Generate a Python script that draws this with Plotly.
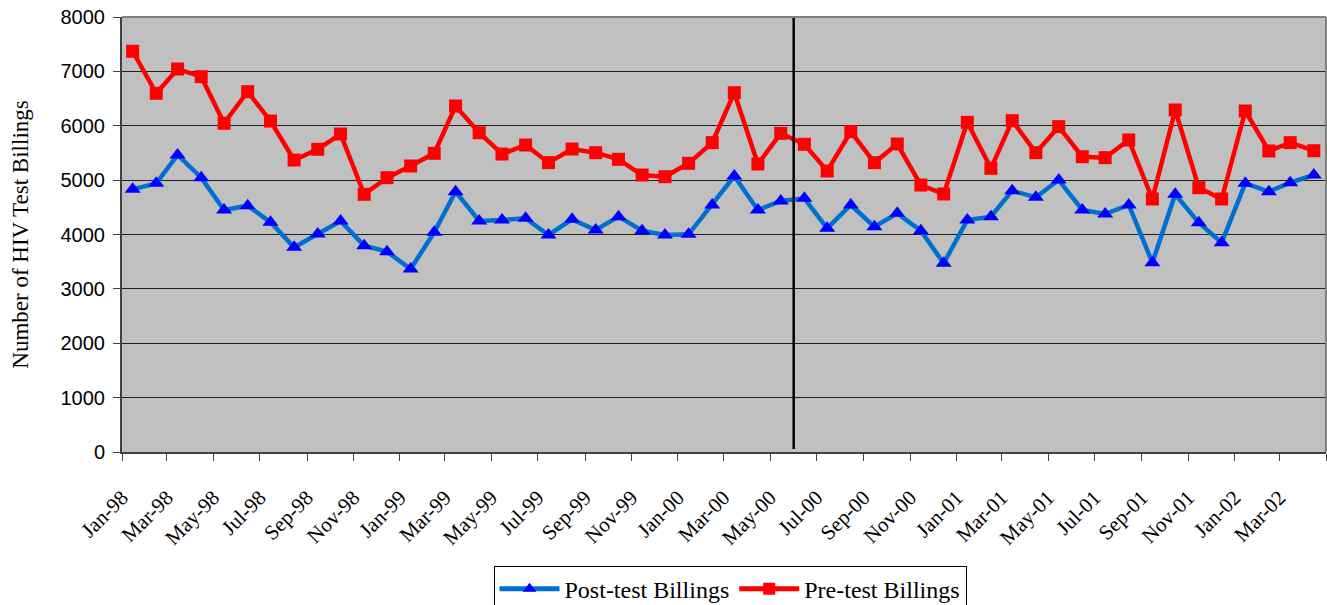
import plotly.graph_objects as go
import pandas as pd

# Monthly data, Jan-98 .. Apr-02
months = pd.date_range("1998-01-01", "2002-04-01", freq="MS")
month_mid = months + pd.Timedelta(days=14)

post_test = [4831, 4941, 5462, 5045, 4451, 4530, 4224, 3764, 4009, 4248, 3795, 3684,
             3366, 4040, 4788, 4248, 4267, 4298, 3991, 4279, 4083, 4328, 4070, 3991,
             4003, 4543, 5076, 4451, 4616, 4666, 4114, 4543, 4144, 4389, 4070, 3470,
             4267, 4328, 4806, 4684, 5002, 4451, 4377, 4543, 3482, 4739, 4218, 3850,
             4941, 4788, 4953, 5094]
pre_test = [7370, 6597, 7044, 6903, 6045, 6627, 6087, 5370, 5567, 5848, 4739, 5045,
            5260, 5493, 6363, 5872, 5480, 5646, 5321, 5572, 5505, 5383, 5094, 5063,
            5309, 5689, 6608, 5297, 5861, 5659, 5168, 5891, 5321, 5664, 4910, 4745,
            6063, 5217, 6093, 5505, 5983, 5431, 5413, 5738, 4653, 6290, 4861, 4653,
            6271, 5536, 5689, 5541]
series_names = ["Post-test Billings", "Pre-test Billings"]
divider_month = "2000-06-01"  # boundary between May-00 and Jun-00

fig = go.Figure()
fig.add_trace(go.Scatter(
    x=month_mid, y=post_test, name=series_names[0], mode="lines+markers",
    line=dict(color="#0070D0", width=4.5),
    marker=dict(symbol="triangle-up", size=14, color="#0000FF", line=dict(width=0)),
))
fig.add_trace(go.Scatter(
    x=month_mid, y=pre_test, name=series_names[1], mode="lines+markers",
    line=dict(color="#FF0000", width=4.5),
    marker=dict(symbol="square", size=13, color="#FF0000", line=dict(width=0)),
))

fig.add_shape(type="line", xref="x", yref="paper", x0=divider_month, x1=divider_month,
              y0=0.007, y1=1.0, line=dict(color="black", width=2.5))
# light grey frame on top and right
fig.add_shape(type="line", xref="paper", yref="paper", x0=0, x1=1, y0=1, y1=1,
              line=dict(color="#808080", width=2))
fig.add_shape(type="line", xref="paper", yref="paper", x0=1, x1=1, y0=0, y1=1,
              line=dict(color="#808080", width=2))

# figure is taller than the window so the legend box is cut at the bottom, as in the original
fig.update_layout(
    width=1327, height=630,
    margin=dict(l=122, r=1, t=17, b=178),
    paper_bgcolor="white", plot_bgcolor="#C0C0C0",
    showlegend=True,
    legend=dict(orientation="h", x=0.505, xanchor="center", y=-0.261, yanchor="top",
                font=dict(family="Liberation Serif", size=24, color="black"),
                bgcolor="white", bordercolor="black", borderwidth=1,
                traceorder="normal", itemsizing="constant", itemwidth=60),
    xaxis=dict(
        type="date",
        range=[months[0], pd.Timestamp("2002-05-01")],
        tick0="1998-01-01", dtick="M2", tickformat="%b-%y",
        tickangle=-45, ticks="outside", ticklen=7, tickcolor="#404040",
        tickfont=dict(family="Liberation Serif", size=21, color="black"),
        ticklabelstandoff=16,
        showgrid=False, zeroline=False,
        showline=True, linecolor="#404040", linewidth=2,
    ),
    yaxis=dict(
        range=[0, 8000], dtick=1000,
        ticks="outside", ticklen=7, tickcolor="#404040",
        tickfont=dict(family="Liberation Sans", size=20, color="black"),
        ticklabelstandoff=4,
        showgrid=True, gridcolor="#202020", gridwidth=1,
        zeroline=False,
        showline=True, linecolor="#404040", linewidth=2,
        title=dict(text="Number of HIV Test Billings",
                   font=dict(family="Liberation Serif", size=23, color="black"),
                   standoff=25),
    ),
)

fig.write_html("out.html", config={"displayModeBar": False},
               post_script="document.body.style.margin='0';document.body.style.overflow='hidden';")
